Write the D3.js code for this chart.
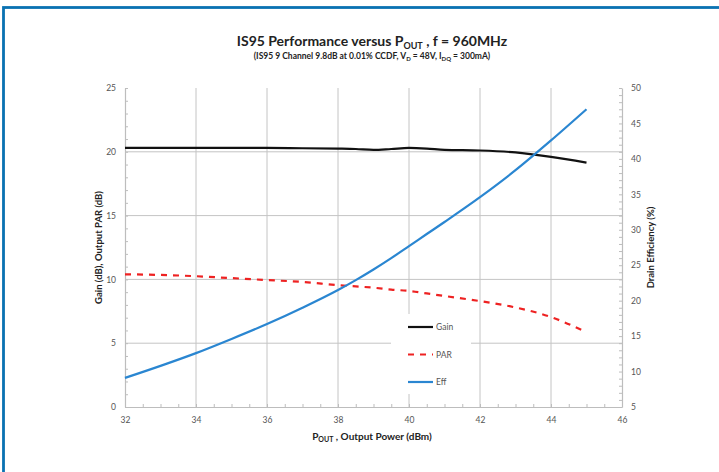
<!DOCTYPE html>
<html>
<head>
<meta charset="utf-8">
<script src="https://cdn.jsdelivr.net/npm/d3@7"></script>
<style>
  html, body { margin: 0; padding: 0; background: #fff; }
  svg { display: block; font-family: "Lato", "Open Sans", sans-serif; }
</style>
</head>
<body>
<svg id="chart" width="719" height="472"></svg>
<script>
// Output power sweep (dBm)
const pout = [32, 33, 34, 35, 36, 37, 38, 38.5, 39, 39.5, 40, 40.5, 41, 42, 43, 44, 45];
// Gain (dB)
const gain = [20.3, 20.3, 20.3, 20.3, 20.3, 20.28, 20.25, 20.22, 20.15, 20.22, 20.3, 20.25, 20.15, 20.1, 19.95, 19.6, 19.15];
// Output PAR (dB)
const par = [10.4, 10.35, 10.25, 10.1, 9.95, 9.8, 9.55, 9.45, 9.35, 9.2, 9.1, 8.9, 8.7, 8.3, 7.8, 7.05, 5.85];
// Drain efficiency (%)
const eff = [9.1, 10.8, 12.6, 14.6, 16.7, 19.0, 21.5, 22.9, 24.4, 26.0, 27.7, 29.4, 31.1, 34.6, 38.4, 42.6, 47.0];

const xTicks = [32, 34, 36, 38, 40, 42, 44, 46];
const yLeftTicks = [0, 5, 10, 15, 20, 25];
const yRightTicks = [5, 10, 15, 20, 25, 30, 35, 40, 45, 50];

const legendItems = [
  { name: "Gain", color: "#111111", dash: null },
  { name: "PAR", color: "#ee2222", dash: "6,6" },
  { name: "Eff", color: "#2a86d1", dash: null }
];

const svg = d3.select("#chart");
const plot = { left: 125, right: 622, top: 88, bottom: 407 };

// Frame border
svg.append("rect")
  .attr("x", 3.5).attr("y", 7.5)
  .attr("width", 760).attr("height", 520)
  .attr("fill", "none")
  .attr("stroke", "#0a72b2")
  .attr("stroke-width", 2.8);

const x = d3.scaleLinear().domain([32, 46]).range([plot.left, plot.right]);
const yL = d3.scaleLinear().domain([0, 25]).range([plot.bottom, plot.top]);
const yR = d3.scaleLinear().domain([5, 50]).range([plot.bottom, plot.top]);

const gridColor = "#c4c4c4";
const axisColor = "#bdbdbd";

// Grid lines
svg.append("g").selectAll("line.vg")
  .data(xTicks.slice(1, -1)).join("line")
  .attr("x1", d => x(d)).attr("x2", d => x(d))
  .attr("y1", plot.top).attr("y2", plot.bottom)
  .attr("stroke", gridColor).attr("stroke-width", 1);
svg.append("g").selectAll("line.hg")
  .data(yLeftTicks.slice(1, -1)).join("line")
  .attr("x1", plot.left).attr("x2", plot.right)
  .attr("y1", d => yL(d)).attr("y2", d => yL(d))
  .attr("stroke", gridColor).attr("stroke-width", 1);

// Axes
function styleAxis(g) {
  g.select(".domain").attr("stroke", axisColor).attr("stroke-width", 1.2);
  g.selectAll(".tick line").attr("stroke", axisColor);
  g.selectAll(".tick text").attr("fill", "#555").style("font-size", "8.5px")
    .style("font-family", "Lato, 'Open Sans', sans-serif");
}

const xAxis = svg.append("g")
  .attr("transform", `translate(0,${plot.bottom})`)
  .call(d3.axisBottom(x).tickValues(d3.range(32, 46.01, 0.5)).tickSize(-3).tickSizeOuter(0)
    .tickFormat(d => xTicks.includes(d) ? d : ""))
  .call(styleAxis);
xAxis.selectAll(".tick text").attr("dy", "1.5em");

const yLAxis = svg.append("g")
  .attr("transform", `translate(${plot.left},0)`)
  .call(d3.axisLeft(yL).tickValues(d3.range(0, 25.01, 1)).tickSize(-3).tickSizeOuter(0)
    .tickFormat(d => yLeftTicks.includes(d) ? d : ""))
  .call(styleAxis);
yLAxis.selectAll(".tick text").attr("x", -9);

const yRAxis = svg.append("g")
  .attr("transform", `translate(${plot.right},0)`)
  .call(d3.axisRight(yR).tickValues(d3.range(5, 50.01, 1)).tickSize(-3).tickSizeOuter(0)
    .tickFormat(d => yRightTicks.includes(d) ? d : ""))
  .call(styleAxis);
yRAxis.selectAll(".tick text").attr("x", 9);

// Series
const lineL = vals => d3.line().x((d, i) => x(pout[i])).y(d => yL(d)).curve(d3.curveMonotoneX)(vals);
const lineR = vals => d3.line().x((d, i) => x(pout[i])).y(d => yR(d)).curve(d3.curveMonotoneX)(vals);

svg.append("path").attr("d", lineL(gain))
  .attr("fill", "none").attr("stroke", legendItems[0].color).attr("stroke-width", 2.2);
svg.append("path").attr("d", lineL(par))
  .attr("fill", "none").attr("stroke", legendItems[1].color).attr("stroke-width", 2.2)
  .attr("stroke-dasharray", legendItems[1].dash);
svg.append("path").attr("d", lineR(eff))
  .attr("fill", "none").attr("stroke", legendItems[2].color).attr("stroke-width", 2.2);

// Legend
const legend = svg.append("g");
legend.append("rect")
  .attr("x", 391).attr("y", 314).attr("width", 80).attr("height", 80)
  .attr("fill", "#fff");
const li = legend.selectAll("g.item").data(legendItems).join("g")
  .attr("transform", (d, i) => `translate(408,${327 + i * 27.5})`);
li.append("line")
  .attr("x1", 0).attr("x2", 25).attr("y1", 0).attr("y2", 0)
  .attr("stroke", d => d.color).attr("stroke-width", 2.2)
  .attr("stroke-dasharray", d => d.dash);
li.append("text")
  .attr("x", 28).attr("y", 3)
  .attr("fill", "#555").style("font-size", "8.5px")
  .text(d => d.name);

// Titles
const title = svg.append("text")
  .attr("x", 372).attr("y", 46)
  .attr("text-anchor", "middle")
  .attr("font-weight", "bold").style("font-size", "14px").attr("fill", "#222");
title.append("tspan").text("IS95 Performance versus P");
title.append("tspan").attr("dy", 3).style("font-size", "9px").text("OUT");
title.append("tspan").attr("dy", -3).text(" , f = 960MHz");

const sub = svg.append("text")
  .attr("x", 372).attr("y", 59)
  .attr("text-anchor", "middle")
  .attr("font-weight", "bold").style("font-size", "8.5px").attr("fill", "#222");
sub.append("tspan").text("(IS95 9 Channel 9.8dB at 0.01% CCDF, V");
sub.append("tspan").attr("dy", 2).style("font-size", "6px").text("D");
sub.append("tspan").attr("dy", -2).text(" = 48V, I");
sub.append("tspan").attr("dy", 2).style("font-size", "6px").text("DQ");
sub.append("tspan").attr("dy", -2).text(" = 300mA)");

const xLabel = svg.append("text")
  .attr("x", 372).attr("y", 440)
  .attr("text-anchor", "middle")
  .attr("font-weight", "bold").style("font-size", "10px").attr("fill", "#222");
xLabel.append("tspan").text("P");
xLabel.append("tspan").attr("dy", 2).style("font-size", "7px").text("OUT");
xLabel.append("tspan").attr("dy", -2).text(" , Output Power (dBm)");

svg.append("text")
  .attr("transform", `translate(102,${(plot.top + plot.bottom) / 2}) rotate(-90)`)
  .attr("text-anchor", "middle")
  .attr("font-weight", "bold").style("font-size", "9.5px").attr("fill", "#222")
  .text("Gain (dB), Output PAR (dB)");

svg.append("text")
  .attr("transform", `translate(654,${(plot.top + plot.bottom) / 2}) rotate(-90)`)
  .attr("text-anchor", "middle")
  .attr("font-weight", "bold").style("font-size", "9.5px").attr("fill", "#222")
  .text("Drain Efficiency (%)");
</script>
</body>
</html>
